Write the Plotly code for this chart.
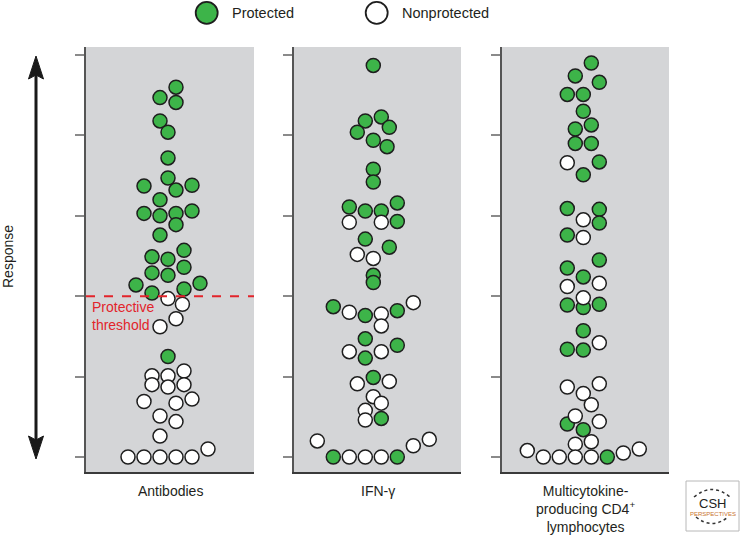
import plotly.graph_objects as go

W, H = 741, 537

# ---------------- data ----------------
categories = ["Antibodies", "IFN-γ", "Multicytokine-<br>producing CD4<sup>+</sup><br>lymphocytes"]
legend_labels = ["Protected", "Nonprotected"]

# swarm offset (x), response (y), protected flag (1 = protected, 0 = nonprotected)
ab_x = [0.5, -0.5, 0.5, -0.5, 0, 0, 0, -1.5, 0.5, 1.5, -0.5, -1.5, -0.5, 0.5, 1.5, 0.5, -0.5,
        1, -1, 0, 1, -1, 0, -2, -1, 1, 2, 0, 0.9, 0.5, -0.5, 0, 1, -1, 0, -1, 0, 1, -1.5,
        0.5, 1.5, -0.5, 0.5, -0.5, -2.5, -1.5, -0.5, 0.5, 1.5, 2.5]
ab_y = [4.60, 4.47, 4.41, 4.18, 4.04, 3.72, 3.47, 3.37, 3.32, 3.38, 3.20, 3.03, 3.00, 3.03, 3.06,
        2.89, 2.76, 2.57, 2.49, 2.46, 2.36, 2.29, 2.26, 2.14, 2.04, 2.09, 2.16, 1.97, 1.90, 1.72,
        1.62, 1.25, 1.07, 1.01, 1.01, 0.90, 0.87, 0.90, 0.69, 0.67, 0.72, 0.51, 0.44, 0.26,
        0, 0, 0, 0, 0, 0.10]
ab_p = [1] * 27 + [0, 0, 0, 0, 1] + [0] * 18

ifn_x = [0, -0.5, 0.5, -1, 1, 0, 0.86, 0, 0, -1.5, -0.5, 0.5, 1.5, -1.5, 0.5, 1.5, -0.5, 1,
         -1, 0, 0, 0, -2.5, -1.5, -0.5, 0.5, 1.5, 2.5, 0.5, -0.5, -1.5, -0.5, 0.5, 1.5, -1, 0,
         1, 0, 0.5, -0.5, -0.5, 0.5, -3.5, 2.5, 3.5, -2.5, -1.5, -0.5, 0.5, 1.5]
ifn_y = [4.87, 4.18, 4.23, 4.04, 4.10, 3.94, 3.86, 3.58, 3.42, 3.11, 3.06, 3.06, 3.16, 2.92,
         2.92, 2.93, 2.71, 2.61, 2.52, 2.47, 2.26, 2.17, 1.87, 1.80, 1.76, 1.78, 1.82, 1.92,
         1.63, 1.47, 1.31, 1.23, 1.31, 1.39, 0.91, 0.99, 0.94, 0.75, 0.67, 0.58, 0.46, 0.48,
         0.20, 0.14, 0.22, 0, 0, 0, 0, 0]
ifn_p = [1] * 13 + [0, 0, 1, 1, 1, 0, 0, 1, 1, 1, 0, 1, 0, 1, 0, 0, 1, 0, 1, 0, 1, 0, 1, 0,
         0, 0, 0, 0, 1, 0, 0, 0, 1, 0, 0, 0, 1]

mc_x = [0.5, -0.5, 1, -1, 0, 0, -0.5, 0.5, -0.5, 0.5, -1, 1, 0, -1, 1, 0, 1, -1, 0, 1, -1, 0,
        -1, 1, 0, -1, 0, 1, 0, -1, 0, 1, -1, 1, 0, 0.5, -0.5, 1, -1, 0, -0.5, 0.5, -3.5,
        -2.5, -1.5, -0.5, 0.5, 1.5, 2.5, 3.5]
mc_y = [4.90, 4.74, 4.66, 4.51, 4.51, 4.30, 4.08, 4.13, 3.90, 3.90, 3.66, 3.67, 3.51, 3.09,
        3.08, 2.95, 2.91, 2.76, 2.73, 2.45, 2.35, 2.24, 2.12, 2.16, 1.98, 1.89, 1.86, 1.90,
        1.57, 1.34, 1.33, 1.42, 0.87, 0.91, 0.79, 0.65, 0.51, 0.44, 0.41, 0.34, 0.16, 0.19,
        0.08, 0, 0, 0, 0, 0, 0.05, 0.10]
mc_p = [1] * 10 + [0, 1, 1, 1, 1, 0, 1, 1, 0, 1, 1, 1, 0, 0, 0, 1, 1, 1, 1, 1, 1, 0, 0, 0, 0,
        0, 0, 0, 1, 1, 0, 0, 0, 0, 0, 0, 0, 1, 0, 0]

threshold = 2
tick_vals = [0, 1, 2, 3, 4, 5]

# ---------------- style ----------------
GREEN = "#3db449"
WHITE = "#ffffff"
EDGE = "#1e1e1e"
BG = "#d4d5d7"
RED = "#e2242b"
FONT = "Liberation Sans, Arial, sans-serif"
TXT = "#231f20"

def px(x):
    return x / W

def py(y):
    return 1 - y / H

panels = [(ab_x, ab_y, ab_p), (ifn_x, ifn_y, ifn_p), (mc_x, mc_y, mc_p)]
domains = [(86, 254), (294, 461), (502, 669)]
centers = [168, 373.3, 583.3]
ydom = [py(472), py(47)]
yrange = [-15 / 80.4, 410 / 80.4]

fig = go.Figure()
layout = dict(
    width=W, height=H, margin=dict(l=0, r=0, t=0, b=0),
    paper_bgcolor="white", plot_bgcolor=BG, showlegend=False,
    font=dict(family=FONT, color=TXT),
)

for i, (xs, ys, ps) in enumerate(panels):
    n = "" if i == 0 else str(i + 1)
    for flag, col in ((1, GREEN), (0, WHITE)):
        fig.add_trace(go.Scatter(
            x=[x for x, p in zip(xs, ps) if p == flag],
            y=[y for y, p in zip(ys, ps) if p == flag],
            mode="markers", xaxis="x" + n, yaxis="y" + n,
            marker=dict(size=14, color=col, line=dict(color=EDGE, width=1.5)),
            hoverinfo="skip", cliponaxis=False,
        ))
    d0, d1 = domains[i]
    c = centers[i]
    layout["xaxis" + n] = dict(
        domain=[px(d0), px(d1)], range=[(d0 - c) / 16, (d1 - c) / 16],
        showline=True, linecolor="#3a3a3a", linewidth=1.5, showgrid=False,
        zeroline=False, showticklabels=False, ticks="", anchor="y" + n, fixedrange=True,
    )
    layout["yaxis" + n] = dict(
        domain=ydom, range=yrange, showline=True, linecolor="#555555", linewidth=2,
        showgrid=False, zeroline=False, showticklabels=False, ticks="outside",
        tickvals=tick_vals, ticklen=9, tickwidth=2, tickcolor="#8a8a8a",
        anchor="x" + n, fixedrange=True,
    )

fig.update_layout(**layout)

shapes = []
annotations = []

# threshold line in first panel
shapes.append(dict(type="line", xref="x domain", yref="y", x0=0, x1=1, y0=threshold,
                   y1=threshold, line=dict(color=RED, width=2, dash="dash")))
annotations.append(dict(xref="paper", yref="y", x=px(90), y=threshold - 0.25,
                        text="Protective<br>threshold", showarrow=False, xanchor="left",
                        yanchor="middle", align="left",
                        font=dict(family=FONT, size=14, color=RED)))

# category labels
for i, cat in enumerate(categories):
    n = "" if i == 0 else str(i + 1)
    annotations.append(dict(xref="x" + n + " domain", yref="paper", x=0.5, y=py(481),
                            text=cat, showarrow=False, xanchor="center", yanchor="top",
                            align="center", font=dict(family=FONT, size=14, color=TXT)))

# legend
for cx, tx, col, lab in ((206.7, 230, GREEN, legend_labels[0]),
                         (376.7, 400, WHITE, legend_labels[1])):
    shapes.append(dict(type="circle", xref="paper", yref="paper", xsizemode="pixel",
                       ysizemode="pixel", xanchor=px(cx), yanchor=py(12.8), x0=-11, x1=11,
                       y0=-11, y1=11, fillcolor=col, line=dict(color=EDGE, width=1.8)))
    annotations.append(dict(xref="paper", yref="paper", x=px(tx), y=py(13), text=lab,
                            showarrow=False, xanchor="left", yanchor="middle",
                            font=dict(family=FONT, size=14.5, color=TXT)))

# response arrow
shapes.append(dict(type="line", xref="paper", yref="paper", x0=px(36), x1=px(36),
                   y0=py(74), y1=py(441), line=dict(color="#1a1a1a", width=3)))
shapes.append(dict(type="path", xref="paper", yref="paper",
                   path=f"M {px(36)} {py(56)} L {px(28.5)} {py(79)} L {px(36)} {py(75)} "
                        f"L {px(43.5)} {py(79)} Z",
                   fillcolor="#1a1a1a", line=dict(color="#1a1a1a", width=1)))
shapes.append(dict(type="path", xref="paper", yref="paper",
                   path=f"M {px(36)} {py(459)} L {px(28.5)} {py(436)} L {px(36)} {py(440)} "
                        f"L {px(43.5)} {py(436)} Z",
                   fillcolor="#1a1a1a", line=dict(color="#1a1a1a", width=1)))
annotations.append(dict(xref="paper", yref="paper", x=px(8), y=py(257), text="Response",
                        showarrow=False, textangle=-90, xanchor="center", yanchor="middle",
                        font=dict(family=FONT, size=14, color=TXT)))

# CSH Perspectives badge
shapes.append(dict(type="rect", xref="paper", yref="paper", x0=px(686), x1=px(739),
                   y0=py(531), y1=py(481), line=dict(color="#b8b8b8", width=1),
                   fillcolor="white"))
shapes.append(dict(type="path", xref="paper", yref="paper",
                   path=f"M {px(694)} {py(497)} Q {px(712)} {py(482)} {px(730)} {py(497)}",
                   line=dict(color="#333333", width=1.5, dash="dot")))
shapes.append(dict(type="path", xref="paper", yref="paper",
                   path=f"M {px(696)} {py(517)} Q {px(712)} {py(530)} {px(728)} {py(517)}",
                   line=dict(color="#333333", width=1.5, dash="dot")))
annotations.append(dict(xref="paper", yref="paper", x=px(712.5), y=py(503), text="CSH",
                        showarrow=False, xanchor="center", yanchor="middle",
                        font=dict(family=FONT, size=13, color="#222222")))
annotations.append(dict(xref="paper", yref="paper", x=px(712.5), y=py(513.5),
                        text="PERSPECTIVES", showarrow=False, xanchor="center",
                        yanchor="middle", font=dict(family=FONT, size=6, color="#c9742e")))

fig.update_layout(shapes=shapes, annotations=annotations)
fig.write_html("out.html", config={"displayModeBar": False, "staticPlot": True},
               post_script="document.body.style.margin='0';document.body.style.overflow='hidden';")
